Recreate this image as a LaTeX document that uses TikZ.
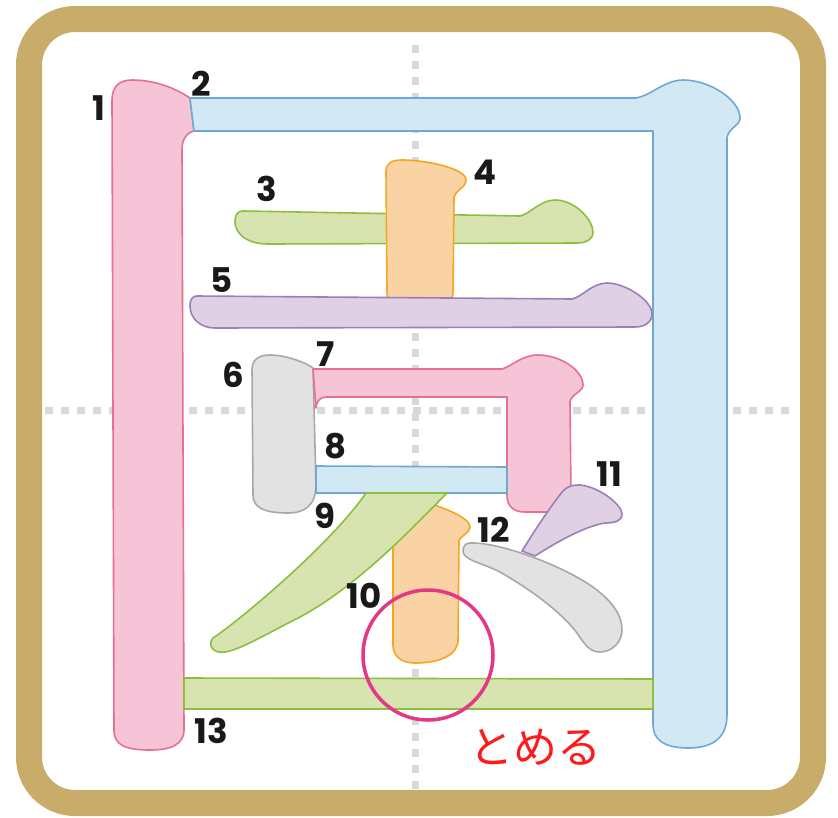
\documentclass[tikz,border=0pt]{standalone}
\usepackage{fontspec}
\setmainfont{Poppins}
\newfontfamily\jpfont{Noto Sans CJK JP}
\definecolor{frameC}{HTML}{C9AB6A}
\definecolor{guideC}{HTML}{D9D9D9}
\definecolor{pinkF}{HTML}{F5C4D7}\definecolor{pinkD}{HTML}{E8708F}
\definecolor{blueF}{HTML}{D2E9F3}\definecolor{blueD}{HTML}{6EA8D8}
\definecolor{greenF}{HTML}{D7E4B0}\definecolor{greenD}{HTML}{8CBF3F}
\definecolor{orangeF}{HTML}{F9D3A3}\definecolor{orangeD}{HTML}{F5A623}
\definecolor{purpleF}{HTML}{DFD0E4}\definecolor{purpleD}{HTML}{9B7FBA}
\definecolor{grayF}{HTML}{E2E2E2}\definecolor{grayD}{HTML}{A8A8A8}
\definecolor{circC}{HTML}{E43785}
\definecolor{redT}{HTML}{FF1A1A}
\tikzset{
  pinkS/.style={fill=pinkF,draw=pinkD,line width=1.6pt,line join=round},
  blueS/.style={fill=blueF,draw=blueD,line width=1.6pt,line join=round},
  greenS/.style={fill=greenF,draw=greenD,line width=1.6pt,line join=round},
  orangeS/.style={fill=orangeF,draw=orangeD,line width=1.6pt,line join=round},
  purpleS/.style={fill=purpleF,draw=purpleD,line width=1.6pt,line join=round},
  grayS/.style={fill=grayF,draw=grayD,line width=1.6pt,line join=round},
  guide/.style={draw=guideC,line width=7pt,dash pattern=on 8pt off 8pt},
  num/.style={font=\fontsize{34}{34}\selectfont\bfseries,text=black!90,anchor=base,inner sep=0pt}
}
\begin{document}
\begin{tikzpicture}[x=1pt,y=-1pt]
\useasboundingbox (0,0) rectangle (838,817);
\fill[white] (0,0) rectangle (838,817);
% frame
\draw[frameC,line width=26pt,rounded corners=46pt] (29,19) rectangle (813,803);
% guides
\draw[guide] (415,45) -- (415,790);
\draw[guide] (45,410) -- (795,410);
% stroke 1
\draw[pinkS] (112,100) .. controls (112,86) and (120,80) .. (132,80) .. controls (155,80) and (175,88) .. (190,98) -- (194,131) .. controls (186,133) and (182,140) .. (182,150) -- (184,730) .. controls (184,745) and (170,750) .. (150,750) .. controls (125,750) and (114,745) .. (114,730) -- cycle;
% stroke 2
\draw[blueS] (190,98) -- (636,98) .. controls (650,96) and (665,80) .. (683,80) .. controls (710,80) and (740,100) .. (740,118) .. controls (740,126) and (728,128) .. (727,138) -- (727,715) .. controls (727,740) and (710,748) .. (688,748) .. controls (665,748) and (653,740) .. (653,725) -- (653,131) -- (194,131) -- cycle;
% stroke 3
\draw[greenS] (243,211) -- (520,216) .. controls (530,214) and (540,200) .. (555,200) .. controls (575,200) and (593,220) .. (593,232) .. controls (593,240) and (585,243) .. (578,243) -- (268,244) .. controls (245,244) and (235,232) .. (235,222) .. controls (235,214) and (238,211) .. (243,211) -- cycle;
% stroke 4
\draw[orangeS] (386,172) .. controls (386,163) and (392,160) .. (402,160) .. controls (425,160) and (466,168) .. (466,180) .. controls (466,188) and (455,190) .. (454,198) -- (453,292) .. controls (453,298) and (451,300) .. (448,300) -- (390,300) .. controls (388,300) and (387,298) .. (387,292) -- cycle;
% stroke 5
\draw[purpleS] (197,296) -- (572,299) .. controls (582,297) and (592,283) .. (607,283) .. controls (625,283) and (652,300) .. (652,314) .. controls (652,322) and (645,327) .. (635,327) -- (215,328) .. controls (200,328) and (190,318) .. (190,306) .. controls (190,300) and (192,296) .. (197,296) -- cycle;
% stroke 6
\draw[grayS] (252,370) .. controls (252,360) and (258,355) .. (270,355) .. controls (285,355) and (305,362) .. (313,368) -- (316,485) .. controls (316,505) and (305,513) .. (288,513) .. controls (265,513) and (253,508) .. (253,495) -- cycle;
% stroke 7
\draw[pinkS] (313,369) -- (502,369) .. controls (512,366) and (522,355) .. (538,355) .. controls (560,355) and (583,370) .. (583,385) .. controls (583,392) and (571,394) .. (570,402) -- (571,495) .. controls (571,508) and (565,512) .. (553,512) -- (525,512) .. controls (512,512) and (507,505) .. (507,495) -- (507,397) -- (326,397) .. controls (320,397) and (316,402) .. (316,408) -- cycle;
% stroke 8
\draw[blueS] (316,466) -- (507,467) -- (507,493) -- (316,493) -- cycle;
% stroke 10 (under 9)
\draw[orangeS] (425,502) .. controls (445,508) and (470,518) .. (470,527) .. controls (470,533) and (462,535) .. (459,540) -- (458,640) .. controls (458,655) and (440,663) .. (415,663) .. controls (400,663) and (393,655) .. (393,645) -- (393,535) -- cycle;
% stroke 9
\draw[greenS] (366,493) -- (447,493) .. controls (420,520) and (360,585) .. (300,617) .. controls (270,632) and (240,650) .. (225,652) .. controls (213,654) and (207,645) .. (213,638) .. controls (240,620) and (330,545) .. (366,493) -- cycle;
% stroke 11
\draw[purpleS] (563,491) .. controls (568,486) and (572,485) .. (580,485) .. controls (600,487) and (622,505) .. (622,514) .. controls (622,521) and (615,523) .. (605,523) .. controls (585,526) and (555,543) .. (535,556) -- (522,551) .. controls (535,530) and (550,507) .. (563,491) -- cycle;
% stroke 12
\draw[grayS] (470,543) .. controls (500,542) and (560,565) .. (590,585) .. controls (612,600) and (622,615) .. (622,630) .. controls (622,642) and (612,652) .. (600,652) .. controls (590,652) and (585,645) .. (577,633) .. controls (565,617) and (540,595) .. (500,572) .. controls (480,562) and (463,560) .. (463,551) .. controls (463,546) and (466,543) .. (470,543) -- cycle;
% stroke 13
\draw[greenS] (184,678) -- (653,679) -- (653,709) -- (184,709) -- cycle;
% circle
\node[draw=circC,line width=3.5pt,circle,minimum size=130pt,inner sep=0pt] (tome) at (428,655) {};
% numbers
\node[num] (n1) at (99,120) {1};
\node[num] (n2) at (201,96) {2};
\node[num] (n3) at (267,201) {3};
\node[num] (n4) at (485,184) {4};
\node[num] (n5) at (222,292) {5};
\node[num] (n6) at (233,387) {6};
\node[num] (n7) at (326,366) {7};
\node[num] (n8) at (336,458) {8};
\node[num] (n9) at (325,528) {9};
\node[num] (n10) at (364,608) {10};
\node[num] (n11) at (609,486) {11};
\node[num] (n12) at (494,542) {12};
\node[num] (n13) at (211,743) {13};
\node[font=\jpfont\fontsize{44}{44}\selectfont,text=redT,inner sep=0pt] (lbl) at (535,747) {とめる};
\end{tikzpicture}
\end{document}
